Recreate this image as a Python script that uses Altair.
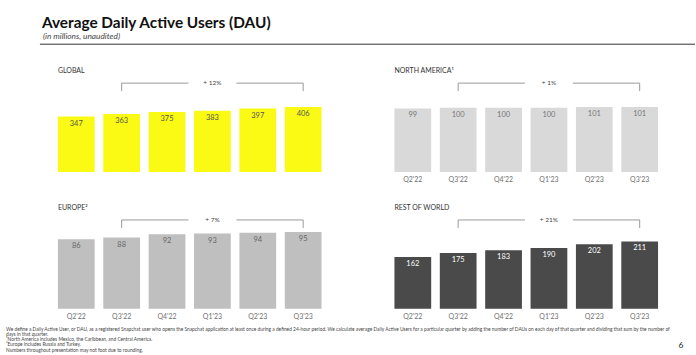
import altair as alt
import pandas as pd

quarters = ["Q2'22", "Q3'22", "Q4'22", "Q1'23", "Q2'23", "Q3'23"]
global_dau = [347, 363, 375, 383, 397, 406]
na_dau = [99, 100, 100, 100, 101, 101]
eu_dau = [86, 88, 92, 93, 94, 95]
row_dau = [162, 175, 183, 190, 202, 211]

panel_titles = ["GLOBAL", "NORTH AMERICA¹", "EUROPE²", "REST OF WORLD"]
growth_labels = ["+ 12%", "+ 1%", "+ 7%", "+ 21%"]

title_text = "Average Daily Active Users (DAU)"
subtitle_text = "(in millions, unaudited)"
footnotes = [
    "We define a Daily Active User, or DAU, as a registered Snapchat user who opens the Snapchat application at least once during a defined 24-hour period. We calculate average Daily Active Users for a particular quarter by adding the number of DAUs on each day of that quarter and dividing that sum by the number of",
    "days in that quarter.",
    "¹North America includes Mexico, the Caribbean, and Central America.",
    "²Europe includes Russia and Turkey.",
    "Numbers throughout presentation may not foot due to rounding.",
]
page_number = ["6"]
page_number_line = [3]

FONT = "Lato"
W, H = 264, 92

x_scale = alt.Scale(domain=quarters, paddingInner=0.19, paddingOuter=0)
x_axis = alt.Axis(title=None, domain=False, ticks=False, labelAngle=0, labelFontSize=7,
                  labelColor="#707070", labelPadding=4, labelFont=FONT, grid=False)


def panel(values, bar_color, text_color, title, growth, ymax, extra=None):
    df = pd.DataFrame({"quarter": quarters, "dau": values})
    x = alt.X("quarter:N", sort=quarters, scale=x_scale, axis=x_axis)
    y = alt.Y("dau:Q", scale=alt.Scale(domain=[0, ymax], nice=False), axis=None)
    bars = alt.Chart(df).mark_bar(color=bar_color).encode(x=x, y=y)
    vals = alt.Chart(df).mark_text(baseline="top", dy=3, fontSize=7.5, font=FONT,
                                   color=text_color).encode(x=x, y=y, text="dau:Q")

    bdf = pd.DataFrame({"start": [quarters[1]], "mid": [quarters[3]],
                        "end": [quarters[5]], "label": [growth]})
    left = alt.Chart(bdf).mark_rule(color="#9a9a9a", strokeWidth=1, x2Offset=-24).encode(
        x=alt.X("start:N", scale=x_scale, axis=x_axis, bandPosition=0.5),
        x2=alt.X2("mid:N", bandPosition=0.5),
        y=alt.value(3))
    right = alt.Chart(bdf).mark_rule(color="#9a9a9a", strokeWidth=1, xOffset=24).encode(
        x=alt.X("mid:N", scale=x_scale, axis=x_axis, bandPosition=0.5),
        x2=alt.X2("end:N", bandPosition=0.5),
        y=alt.value(3))
    tdf = pd.DataFrame({"quarter": [quarters[1], quarters[5]]})
    ticks = alt.Chart(tdf).mark_rule(color="#9a9a9a", strokeWidth=1).encode(
        x=alt.X("quarter:N", scale=x_scale, axis=x_axis, bandPosition=0.5),
        y=alt.value(3), y2=alt.value(11))
    gtext = alt.Chart(bdf).mark_text(fontSize=6.5, font=FONT, color="#444444",
                                     baseline="middle").encode(
        x=alt.X("mid:N", scale=x_scale, axis=x_axis, bandPosition=0.5),
        y=alt.value(3), text="label:N")
    ttl = alt.Chart(pd.DataFrame({"t": [title]})).mark_text(
        align="left", baseline="middle", fontSize=7, font=FONT, color="#333333").encode(
        x=alt.value(0), y=alt.value(-9), text="t:N")
    layers = []
    if extra:
        layers += extra
    layers += [bars, vals, left, right, ticks, gtext, ttl]
    return alt.layer(*layers).properties(width=W, height=H)


# page elements (background, header and footer), placed relative to the first panel
bg = alt.Chart(pd.DataFrame({"a": [0]})).mark_rect(color="white").encode(
    x=alt.value(-58), x2=alt.value(638), y=alt.value(-80), y2=alt.value(275))
head = alt.Chart(pd.DataFrame({"t": [title_text]})).mark_text(
    align="left", baseline="alphabetic", fontSize=15.4, fontWeight="bold", font=FONT,
    color="#111111").encode(x=alt.value(-16), y=alt.value(-52), text="t:N")
sub = alt.Chart(pd.DataFrame({"t": [subtitle_text]})).mark_text(
    align="left", baseline="alphabetic", fontSize=8.3, fontStyle="italic", font=FONT,
    color="#444444").encode(x=alt.value(-15), y=alt.value(-41), text="t:N")
hline = alt.Chart(pd.DataFrame({"a": [0]})).mark_rule(color="#333333", strokeWidth=1).encode(
    x=alt.value(-18), x2=alt.value(638), y=alt.value(-36))
foot_y = alt.Scale(domain=[0, 4], range=[250, 270.8])
fdf = pd.DataFrame({"t": footnotes, "i": list(range(len(footnotes)))})
foot = alt.Chart(fdf).mark_text(align="left", baseline="middle", fontSize=4.85, font=FONT,
                                color="#444444").encode(
    x=alt.value(-52), y=alt.Y("i:Q", scale=foot_y, axis=None), text="t:N")
pnum = alt.Chart(pd.DataFrame({"pn": page_number, "i": page_number_line})).mark_text(
    align="center", baseline="middle", fontSize=8.5, font=FONT, color="#222222").encode(
    x=alt.value(624), y=alt.Y("i:Q", scale=foot_y, axis=None), text="pn:N")

g = panel(global_dau, "#FAFA14", "#555555", panel_titles[0], growth_labels[0], 574.6,
          extra=[bg, head, sub, hline, foot, pnum])
g = g.resolve_scale(y="independent")
na = panel(na_dau, "#D9D9D9", "#777777", panel_titles[1], growth_labels[1], 143)
eu = panel(eu_dau, "#BFBFBF", "#666666", panel_titles[2], growth_labels[2], 113.5)
rw = panel(row_dau, "#4A4A4A", "#FFFFFF", panel_titles[3], growth_labels[3], 287.6)

chart = alt.concat(g, na, eu, rw, columns=2, spacing={"row": 45, "column": 73},
                   bounds="flush").resolve_scale(y="independent").properties(
    padding=0, background="white"
).configure_view(stroke=None)

chart.save("out.html", embed_options={"renderer": "svg", "actions": False})
